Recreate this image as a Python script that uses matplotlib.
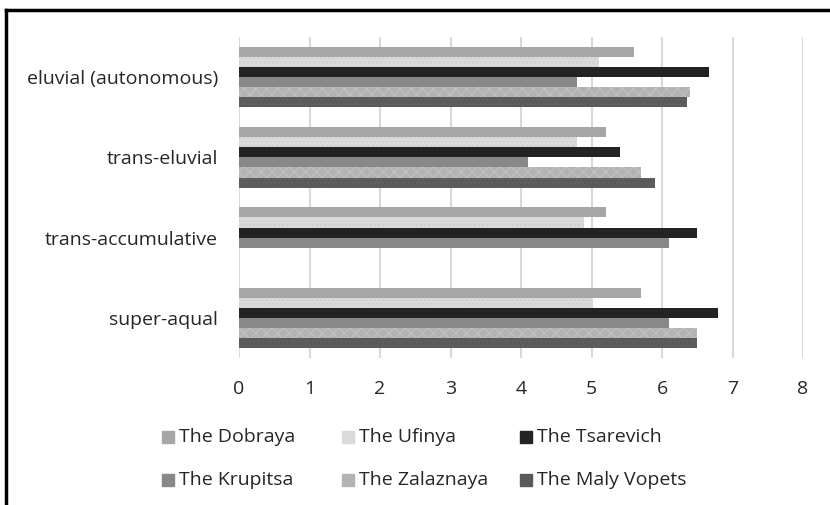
import matplotlib
matplotlib.use('Agg')
import matplotlib.pyplot as plt
from matplotlib.patches import Rectangle
from matplotlib.lines import Line2D
import numpy as np

plt.rcParams['font.family'] = ['Open Sans', 'DejaVu Sans']
plt.rcParams['hatch.linewidth'] = 0.6

# categories, top to bottom as in the picture
categories = ['eluvial (autonomous)', 'trans-eluvial', 'trans-accumulative', 'super-aqual']
series = ['The Dobraya', 'The Ufinya', 'The Tsarevich',
          'The Krupitsa', 'The Zalaznaya', 'The Maly Vopets']

dobraya = [5.6, 5.2, 5.2, 5.7]
ufinya = [5.1, 4.8, 4.9, 5.0]
tsarevich = [6.67, 5.4, 6.5, 6.8]
krupitsa = [4.8, 4.1, 6.1, 6.1]
zalaznaya = [6.4, 5.7, 0, 6.5]
maly_vopets = [6.35, 5.9, 0, 6.5]

colors = ['#a6a6a6', '#dadada', '#232323', '#888888', '#b3b3b3', '#5a5a5a']
# faint textures like the original fill patterns
hatches = [None, '....', None, None, 'xxx', '....']
hatch_cols = ['#a6a6a6', '#cbcbcb', '#232323', '#888888', '#c6c6c6', '#666666']
x_ticks = [0, 1, 2, 3, 4, 5, 6, 7, 8]

W, H = 830, 505
fig = plt.figure(figsize=(W/100, H/100), dpi=100)
ax = fig.add_axes([239/W, 1 - 358/H, (803 - 239)/W, (358 - 37)/H])

values = [dobraya, ufinya, tsarevich, krupitsa, zalaznaya, maly_vopets]
ncat = len(categories)
centers = np.arange(ncat)[::-1]  # top category highest
bar_h = 0.126
for i, (vals, col) in enumerate(zip(values, colors)):
    offs = (2.5 - i) * bar_h
    ax.barh(centers + offs, vals, height=bar_h, color=col, edgecolor=hatch_cols[i],
            hatch=hatches[i], zorder=2, linewidth=0)

ax.set_xlim(0, 8)
ax.set_ylim(-0.5, ncat - 0.5)
ax.set_xticks(x_ticks)
ax.set_yticks(centers)
ax.set_yticklabels(categories)
ax.grid(axis='x', color='#d9d9d9', lw=1.5, zorder=0)
ax.set_axisbelow(True)
for s in ax.spines.values():
    s.set_visible(False)
ax.tick_params(length=0, labelsize=14, colors='#262626')
ax.tick_params(axis='x', pad=16)
ax.tick_params(axis='y', pad=15)

# legend drawn by hand, Excel style: 3 columns x 2 rows
col_x = [162, 342, 520]
row_y = [437, 480]
for k, (name, col) in enumerate(zip(series, colors)):
    cx = col_x[k % 3]
    cy = row_y[k // 3]
    fig.add_artist(Rectangle((cx/W, 1 - (cy + 6)/H), 12/W, 12/H,
                             color=col, transform=fig.transFigure))
    fig.text((cx + 17)/W, 1 - cy/H, name, fontsize=14, color='#262626',
             va='center', ha='left')

# frame lines at the left and top
fig.add_artist(Line2D([6/W, 6/W], [0, 1 - 10/H], color='black', lw=2.5,
                      transform=fig.transFigure))
fig.add_artist(Line2D([6/W, 1], [1 - 10/H, 1 - 10/H], color='black', lw=2.5,
                      transform=fig.transFigure))

fig.savefig('out.png', dpi=100)
